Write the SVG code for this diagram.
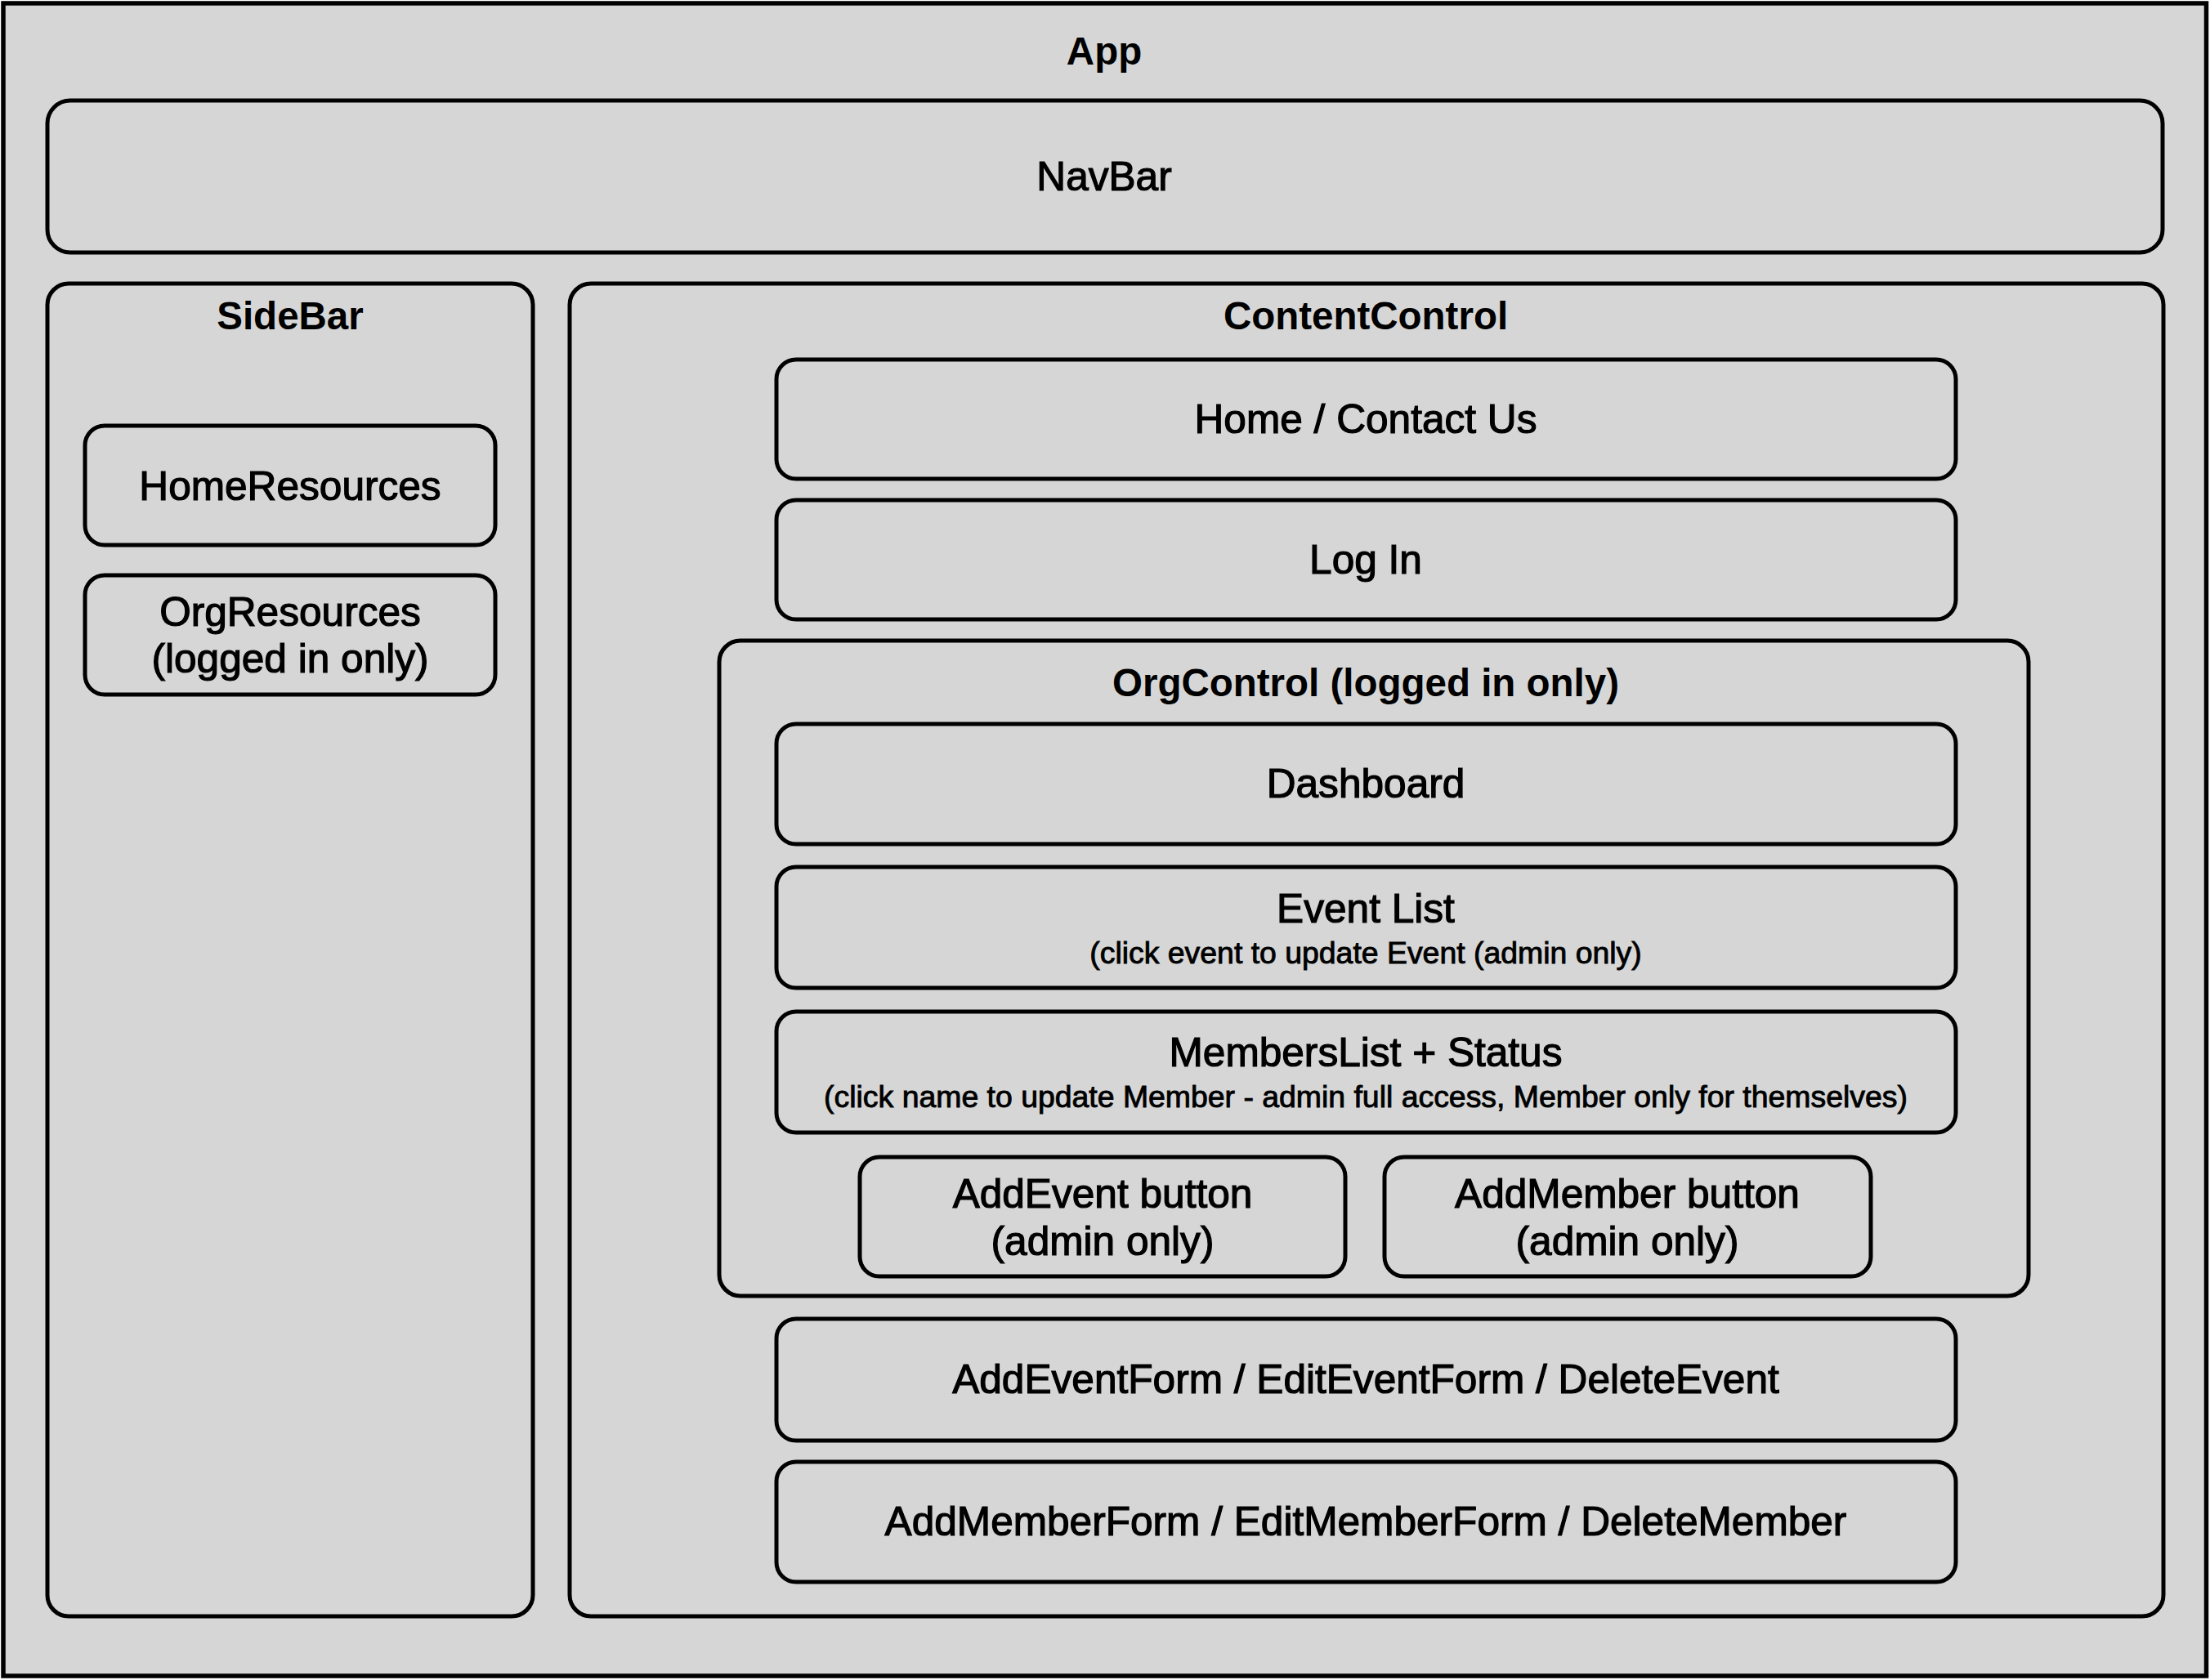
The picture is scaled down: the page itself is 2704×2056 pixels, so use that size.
<svg xmlns="http://www.w3.org/2000/svg" width="2704" height="2056" viewBox="0 0 2704 2056">
  <style>
    .box { fill: none; stroke: #000; stroke-width: 5; }
    .t { font-family: "Liberation Sans", Arial, Helvetica, sans-serif; font-size: 49.6px; fill: #000; text-anchor: middle; stroke: #000; stroke-width: 1.2; }
    .b { font-family: "Liberation Sans", Arial, Helvetica, sans-serif; font-size: 47.5px; font-weight: bold; fill: #000; text-anchor: middle; }
    .s { font-family: "Liberation Sans", Arial, Helvetica, sans-serif; font-size: 37.4px; fill: #000; text-anchor: middle; stroke: #000; stroke-width: 0.9; }
  </style>
  <rect x="0" y="0" width="2704" height="2056" fill="#ffffff"/>
  <g id="app">
    <rect x="4" y="4" width="2695.5" height="2047" fill="#d6d6d6" stroke="#000" stroke-width="5.5"/>
    <text class="b" x="1351" y="79">App</text>
  </g>
  <g id="navbar">
    <rect class="box" x="58" y="123" width="2588" height="186" rx="28" ry="28"/>
    <text class="t" x="1351" y="233">NavBar</text>
  </g>
  <g id="sidebar">
    <rect class="box" x="58" y="347" width="594" height="1631" rx="26" ry="26"/>
    <text class="b" x="355" y="403">SideBar</text>
  </g>
  <g id="home-resources">
    <rect class="box" x="104" y="521" width="502" height="146" rx="24" ry="24"/>
    <text class="t" x="355" y="612">HomeResources</text>
  </g>
  <g id="org-resources">
    <rect class="box" x="104" y="704" width="502" height="146" rx="24" ry="24"/>
    <text class="t" x="355" y="766">OrgResources</text>
    <text class="t" x="355" y="823">(logged in only)</text>
  </g>
  <g id="content-control">
    <rect class="box" x="697" y="347" width="1950" height="1631" rx="26" ry="26"/>
    <text class="b" x="1671" y="403">ContentControl</text>
  </g>
  <g id="home-contact">
    <rect class="box" x="950" y="440" width="1443" height="146" rx="24" ry="24"/>
    <text class="t" x="1671" y="530">Home / Contact Us</text>
  </g>
  <g id="log-in">
    <rect class="box" x="950" y="612" width="1443" height="146" rx="24" ry="24"/>
    <text class="t" x="1671" y="702">Log In</text>
  </g>
  <g id="org-control">
    <rect class="box" x="880" y="784" width="1602" height="802" rx="26" ry="26"/>
    <text class="b" x="1671" y="852">OrgControl (logged in only)</text>
  </g>
  <g id="dashboard">
    <rect class="box" x="950" y="886" width="1443" height="147" rx="24" ry="24"/>
    <text class="t" x="1671" y="976">Dashboard</text>
  </g>
  <g id="event-list">
    <rect class="box" x="950" y="1061" width="1443" height="148" rx="24" ry="24"/>
    <text class="t" x="1671" y="1129">Event List</text>
    <text class="s" x="1671" y="1179">(click event to update Event (admin only)</text>
  </g>
  <g id="members-list">
    <rect class="box" x="950" y="1238" width="1443" height="148" rx="24" ry="24"/>
    <text class="t" x="1671" y="1305">MembersList + Status</text>
    <text class="s" x="1671" y="1355">(click name to update Member - admin full access, Member only for themselves)</text>
  </g>
  <g id="add-event-button">
    <rect class="box" x="1052" y="1416" width="594" height="146" rx="24" ry="24"/>
    <text class="t" x="1349" y="1478">AddEvent button</text>
    <text class="t" x="1349" y="1536">(admin only)</text>
  </g>
  <g id="add-member-button">
    <rect class="box" x="1694" y="1416" width="595" height="146" rx="24" ry="24"/>
    <text class="t" x="1991" y="1478">AddMember button</text>
    <text class="t" x="1991" y="1536">(admin only)</text>
  </g>
  <g id="event-forms">
    <rect class="box" x="950" y="1614" width="1443" height="149" rx="24" ry="24"/>
    <text class="t" x="1671" y="1705">AddEventForm / EditEventForm / DeleteEvent</text>
  </g>
  <g id="member-forms">
    <rect class="box" x="950" y="1789" width="1443" height="147" rx="24" ry="24"/>
    <text class="t" x="1671" y="1879">AddMemberForm / EditMemberForm / DeleteMember</text>
  </g>
  <g id="connectors"></g>
</svg>
